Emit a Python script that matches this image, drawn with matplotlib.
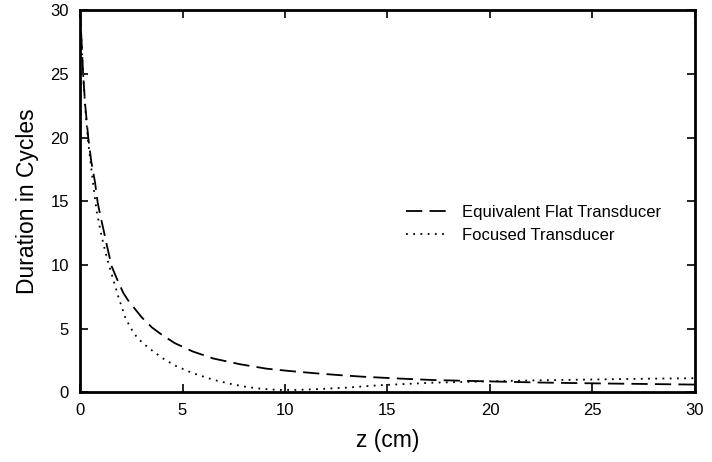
import numpy as np
import matplotlib.pyplot as plt

plt.rcParams['font.family'] = ['Liberation Sans', 'DejaVu Sans']

# distance from transducer (cm) and pulse duration
z_flat = [0, 0.08, 0.15, 0.25, 0.4, 0.55, 0.73, 0.86, 1.0, 1.14, 1.3, 1.54, 1.8, 2.11, 2.35, 2.6,
          3.0, 3.5, 4.0, 4.63, 5.5, 6.5, 7.8, 9.1, 10.2, 11.4, 12.6, 13.8, 15.5, 17.2, 20.0,
          22.5, 25.0, 27.5, 30.0]
dur_flat = [30, 27.4, 25.0, 22.6, 20.0, 18.1, 16.5, 14.9, 13.8, 12.8, 11.6, 9.9, 8.9, 7.8, 7.2, 6.7,
            5.9, 5.1, 4.5, 3.85, 3.2, 2.65, 2.2, 1.85, 1.67, 1.5, 1.35, 1.22, 1.08, 0.96, 0.85,
            0.76, 0.7, 0.65, 0.6]

z_foc = [0, 0.08, 0.15, 0.25, 0.4, 0.6, 0.81, 1.06, 1.3, 1.63, 1.87, 2.2, 2.45, 2.76, 3.1, 3.58,
         4.1, 4.63, 5.5, 6.5, 7.3, 8.1, 8.9, 9.7, 10.5, 11.4, 13.0, 14.6, 17.2, 20.0, 22.5,
         25.0, 27.5, 30.0]
dur_foc = [30, 27.2, 25.0, 22.4, 19.6, 16.9, 14.2, 12.2, 10.6, 8.8, 7.5, 5.9, 5.1, 4.35, 3.8, 3.2,
           2.6, 2.1, 1.5, 0.98, 0.67, 0.42, 0.26, 0.18, 0.18, 0.23, 0.36, 0.55, 0.75, 0.86, 0.94,
           1.0, 1.06, 1.1]

fig = plt.figure(figsize=(7.12, 4.62), dpi=100)
ax = fig.add_axes([0.1124, 0.151, 0.8636, 0.827])

ax.plot(z_flat, dur_flat, color='black', lw=1.3, dashes=(9, 4), label='Equivalent Flat Transducer')
ax.plot(z_foc, dur_foc, color='black', lw=1.3, dashes=(1, 3), label='Focused Transducer')

ax.set_xlim(0, 30)
ax.set_ylim(0, 30)
ax.set_xticks([0, 5, 10, 15, 20, 25, 30])
ax.set_yticks([0, 5, 10, 15, 20, 25, 30])
ax.tick_params(direction='in', length=6, width=1.2, labelsize=12, pad=8,
               top=True, right=True)
for s in ax.spines.values():
    s.set_linewidth(2)

ax.set_xlabel('z (cm)', fontsize=16.5, labelpad=8)
ax.set_ylabel('Duration in Cycles', fontsize=16.5, labelpad=8)

ax.legend(loc='center left', bbox_to_anchor=(0.505, 0.44), frameon=False,
          fontsize=12, handlelength=2.6, handletextpad=0.8, labelspacing=0.5)

fig.savefig('out.png', dpi=100)
